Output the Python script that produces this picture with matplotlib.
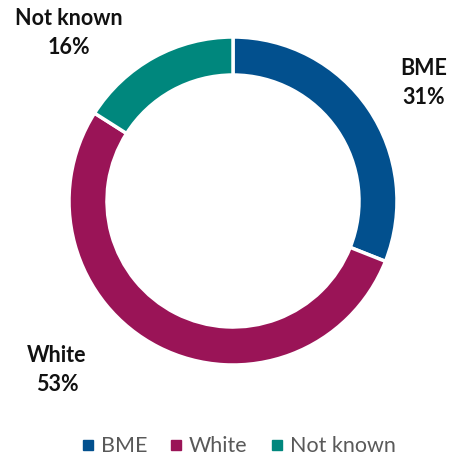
import matplotlib.pyplot as plt
from matplotlib.lines import Line2D

categories = ['BME', 'White', 'Not known']
shares = [31, 53, 16]
colors = ['#02508E', '#9A1457', '#00877D']

plt.rcParams['font.family'] = ['Lato', 'DejaVu Sans']

W, H = 454, 459
fig = plt.figure(figsize=(W / 100, H / 100), dpi=100)
ax = fig.add_axes([0, 0, 1, 1])

wedges, _ = ax.pie(shares, colors=colors, startangle=90, counterclock=False,
                   center=(233, H - 201), radius=164,
                   wedgeprops=dict(width=38, edgecolor='white', linewidth=2.5))

# pie() resets the limits, so set pixel-sized limits afterwards
ax.set_xlim(0, W)
ax.set_ylim(0, H)
ax.set_aspect('equal')
ax.axis('off')

label_pos = {'BME': (424, H - 83), 'White': (57, H - 370), 'Not known': (69, H - 33)}
for name, val in zip(categories, shares):
    x, y = label_pos[name]
    ax.text(x, y, f'{name}\n{val}%', ha='center', va='center',
            fontsize=15.5, fontweight='bold', color='#111111', linespacing=1.5)

handles = [Line2D([], [], marker='s', linestyle='', markersize=7, color=c)
           for c in colors]
fig.legend(handles, categories, loc='center', bbox_to_anchor=(0.518, 0.028),
           ncol=3, frameon=False, fontsize=15.5, labelcolor='#595959',
           handletextpad=0.0, columnspacing=0.75, handlelength=1.2)

fig.savefig('out.png', dpi=100)
